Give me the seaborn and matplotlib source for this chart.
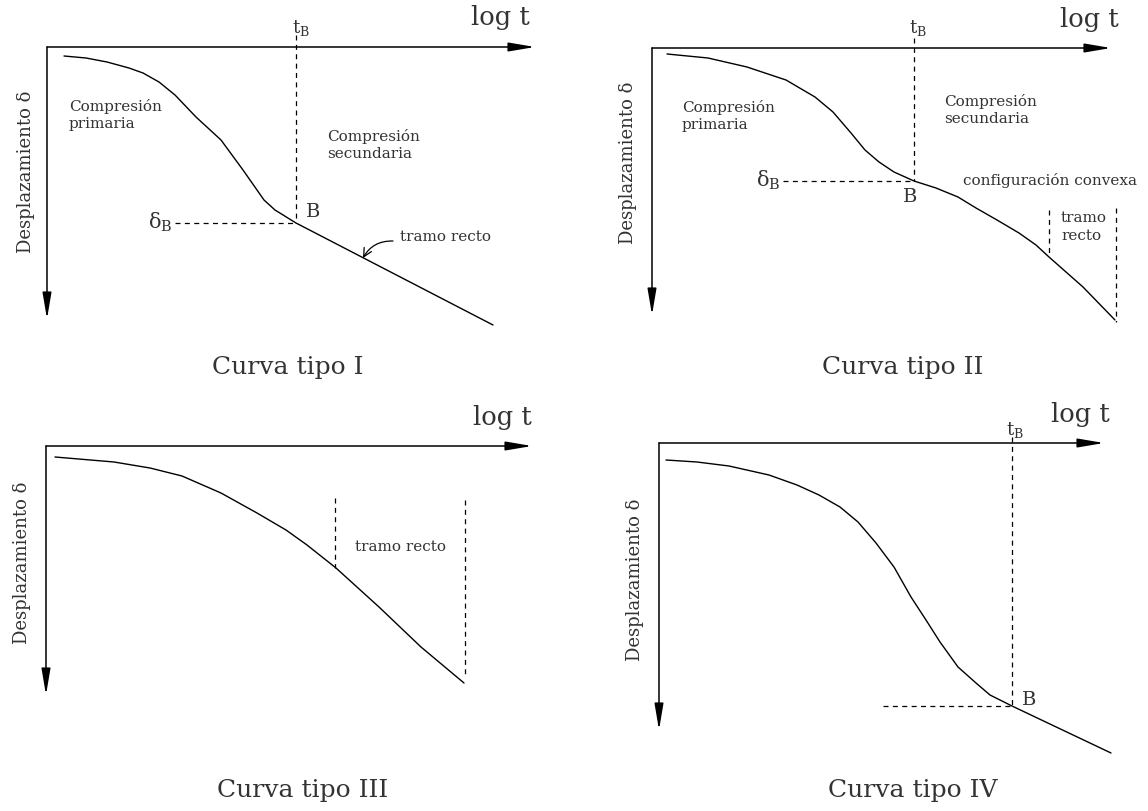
import matplotlib
matplotlib.use('Agg')
import matplotlib.pyplot as plt
import seaborn as sns
from matplotlib.patches import FancyArrowPatch

sns.set_theme(style='white')
plt.rcParams['font.family'] = ['DejaVu Serif']
plt.rcParams['mathtext.fontset'] = 'dejavuserif'

W, H = 1148, 811
TXT = '#333333'

# Curvas (log t hacia la derecha, desplazamiento hacia abajo)
c1_t = [17, 39, 60, 82, 96, 112, 128, 149, 174, 196, 217, 228, 249, 446]
c1_d = [9, 11, 15, 21, 26, 35, 48, 70, 93, 123, 153, 163, 176, 278]

c2_t = [15, 56, 95, 134, 163, 181, 199, 213, 227, 242, 262, 284, 306, 324, 345, 367, 384, 397, 431, 463]
c2_d = [6, 10, 19, 32, 49, 64, 85, 102, 114, 124, 133, 140, 149, 160, 172, 185, 197, 209, 239, 272]

c3_t = [9, 68, 104, 136, 175, 211, 240, 261, 290, 333, 375, 418]
c3_d = [11, 16, 22, 30, 47, 67, 84, 99, 122, 161, 201, 237]

c4_t = [7, 38, 70, 110, 138, 160, 181, 199, 217, 235, 252, 267, 281, 299, 317, 331, 353, 452]
c4_d = [17, 19, 23, 32, 42, 52, 64, 79, 100, 124, 154, 177, 199, 224, 240, 252, 263, 310]

# punto B (t_B, delta_B)
p1_B = (249, 176)
p2_B = (262, 133)
p4_B = (353, 263)

titulos = ['Curva tipo I', 'Curva tipo II', 'Curva tipo III', 'Curva tipo IV']

fig = plt.figure(figsize=(W / 100, H / 100), dpi=100)


def panel(box, origin):
    x0, y0, x1, y1 = box
    ox, oy = origin
    ax = fig.add_axes([x0 / W, 1 - y1 / H, (x1 - x0) / W, (y1 - y0) / H])
    ax.set_xlim(x0 - ox, x1 - ox)
    ax.set_ylim(y1 - oy, y0 - oy)
    ax.axis('off')
    return ax


def ejes(ax, xtip, ytip, logt_x, ylabel_pos):
    for tip in [(xtip, 0), (0, ytip)]:
        ax.add_patch(FancyArrowPatch((0, 0), tip, arrowstyle='-|>,head_length=1.6,head_width=0.27',
                                     mutation_scale=10, color='black', lw=1.1,
                                     shrinkA=0, shrinkB=0))
    ax.text(logt_x, -29, 'log t', fontsize=18.5, color=TXT, ha='center', va='center')
    ax.text(ylabel_pos[0], ylabel_pos[1], 'Desplazamiento δ', fontsize=13, color=TXT,
            rotation=90, ha='center', va='center')


def curva(ax, t, d):
    sns.lineplot(x=t, y=d, ax=ax, sort=False, estimator=None, color='black', lw=1)


def guia(ax, xs, ys):
    ax.plot(xs, ys, color='black', lw=0.9, linestyle=(0, (4, 3.5)))


# ---- Curva tipo I
ax = panel((0, 0, 574, 400), (47, 47))
ejes(ax, 488, 272, 453, (-21, 125))
curva(ax, c1_t, c1_d)
guia(ax, [p1_B[0], p1_B[0]], [-12, p1_B[1]])
guia(ax, [128, p1_B[0]], [p1_B[1], p1_B[1]])
ax.text(p1_B[0] + 5, -19, r'$\mathregular{t_B}$', fontsize=13, color=TXT, ha='center', va='center')
ax.text(126, p1_B[1] - 1, r'$\mathregular{\delta_B}$', fontsize=15, color=TXT, ha='right', va='center')
ax.text(p1_B[0] + 17, p1_B[1] - 11, 'B', fontsize=14, color=TXT, ha='center', va='center')
ax.text(22, 68, 'Compresión\nprimaria', fontsize=11, color=TXT, ha='left', va='center', linespacing=1.3)
ax.text(280, 98, 'Compresión\nsecundaria', fontsize=11, color=TXT, ha='left', va='center', linespacing=1.3)
ax.text(353, 190, 'tramo recto', fontsize=11, color=TXT, ha='left', va='center')
ax.annotate('', xy=(316, 211), xytext=(346, 194),
            arrowprops=dict(arrowstyle='->,head_length=0.5,head_width=0.25', color='black', lw=0.9,
                            connectionstyle='arc3,rad=0.3', shrinkA=0, shrinkB=0))
ax.text(241, 321, titulos[0], fontsize=18, color=TXT, ha='center', va='center')

# ---- Curva tipo II
ax = panel((574, 0, 1148, 400), (652, 48))
ejes(ax, 459, 267, 437, (-24, 115))
curva(ax, c2_t, c2_d)
guia(ax, [p2_B[0], p2_B[0]], [-10, p2_B[1]])
guia(ax, [131, p2_B[0]], [p2_B[1], p2_B[1]])
guia(ax, [397, 397], [162, 209])
guia(ax, [464, 464], [160, 274])
ax.text(p2_B[0] + 4, -20, r'$\mathregular{t_B}$', fontsize=13, color=TXT, ha='center', va='center')
ax.text(129, p2_B[1] - 1, r'$\mathregular{\delta_B}$', fontsize=15, color=TXT, ha='right', va='center')
ax.text(p2_B[0] - 4, p2_B[1] + 16, 'B', fontsize=14, color=TXT, ha='center', va='center')
ax.text(30, 68, 'Compresión\nprimaria', fontsize=11, color=TXT, ha='left', va='center', linespacing=1.3)
ax.text(292, 62, 'Compresión\nsecundaria', fontsize=11, color=TXT, ha='left', va='center', linespacing=1.3)
ax.text(311, 132, 'configuración convexa', fontsize=11, color=TXT, ha='left', va='center')
ax.text(409, 179, 'tramo\nrecto', fontsize=11, color=TXT, ha='left', va='center', linespacing=1.3)
ax.text(251, 320, titulos[1], fontsize=18, color=TXT, ha='center', va='center')

# ---- Curva tipo III
ax = panel((0, 400, 574, 811), (46, 446))
ejes(ax, 486, 249, 456, (-24, 117))
curva(ax, c3_t, c3_d)
guia(ax, [289, 289], [52, 122])
guia(ax, [419, 419], [54, 232])
ax.text(309, 101, 'tramo recto', fontsize=11, color=TXT, ha='left', va='center')
ax.text(257, 344, titulos[2], fontsize=18, color=TXT, ha='center', va='center')

# ---- Curva tipo IV
ax = panel((574, 400, 1148, 811), (659, 443))
ejes(ax, 445, 287, 421, (-24, 137))
curva(ax, c4_t, c4_d)
guia(ax, [p4_B[0], p4_B[0]], [-6, p4_B[1]])
guia(ax, [224, p4_B[0]], [p4_B[1], p4_B[1]])
ax.text(p4_B[0] + 3, -13, r'$\mathregular{t_B}$', fontsize=13, color=TXT, ha='center', va='center')
ax.text(p4_B[0] + 17, p4_B[1] - 6, 'B', fontsize=14, color=TXT, ha='center', va='center')
ax.text(254, 347, titulos[3], fontsize=18, color=TXT, ha='center', va='center')

fig.savefig('out.png', dpi=100, facecolor='white')
plt.close(fig)
